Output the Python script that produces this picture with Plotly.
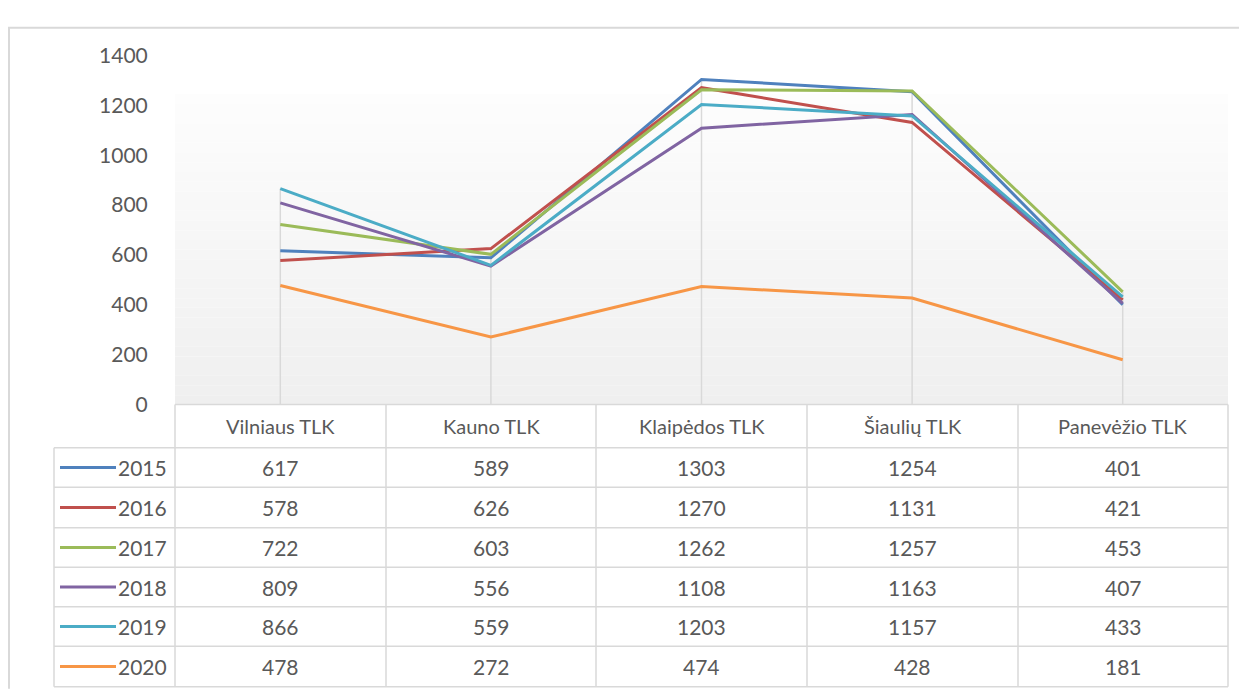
import plotly.graph_objects as go

categories = ["Vilniaus TLK", "Kauno TLK", "Klaipėdos TLK", "Šiaulių TLK", "Panevėžio TLK"]
years = ["2015", "2016", "2017", "2018", "2019", "2020"]
v2015 = [617, 589, 1303, 1254, 401]
v2016 = [578, 626, 1270, 1131, 421]
v2017 = [722, 603, 1262, 1257, 453]
v2018 = [809, 556, 1108, 1163, 407]
v2019 = [866, 559, 1203, 1157, 433]
v2020 = [478, 272, 474, 428, 181]
series = [v2015, v2016, v2017, v2018, v2019, v2020]
colors = ["#4F81BD", "#C0504D", "#9BBB59", "#8064A2", "#4BACC6", "#F79646"]
y_ticks = [0, 200, 400, 600, 800, 1000, 1200, 1400]

OFF = 8
W, H = 1231, 683
def X(px):
    return (px - OFF) / W
def Y(py):
    return 1 - (py - OFF) / H

TXT = "#595959"
GRID = "#d9d9d9"
FONT = "Lato"
FS = 21

fig = go.Figure()

# drop lines (from highest value to axis)
dx, dy = [], []
for i, c in enumerate(categories):
    top = max(s[i] for s in series)
    dx += [c, c, None]
    dy += [0, top, None]
fig.add_trace(go.Scatter(x=dx, y=dy, mode="lines", line=dict(color=GRID, width=1.5),
                         hoverinfo="skip", showlegend=False))

for yr, vals, col in zip(years, series, colors):
    fig.add_trace(go.Scatter(x=categories, y=vals, mode="lines", name=yr,
                             line=dict(color=col, width=3), showlegend=False))

shapes = []
# gradient background in plot area
g_top, g_bot = 83, 405.5
nb = 32
for k in range(nb):
    y0 = g_top + (g_bot - g_top) * k / nb
    y1 = g_top + (g_bot - g_top) * (k + 1) / nb
    t = (k + 0.5) / nb
    v = round(253 - (253 - 239) * t)
    shapes.append(dict(type="rect", xref="paper", yref="paper", x0=X(175), x1=X(1228),
                       y0=Y(y1), y1=Y(y0), fillcolor=f"rgb({v},{v},{v})",
                       line=dict(width=0), layer="below"))

# outer chart border
shapes.append(dict(type="line", xref="paper", yref="paper", x0=X(9), x1=X(9), y0=Y(14), y1=Y(700),
                   line=dict(color=GRID, width=2)))
shapes.append(dict(type="line", xref="paper", yref="paper", x0=X(8), x1=X(1247), y0=Y(14), y1=Y(14),
                   line=dict(color=GRID, width=2)))

# table geometry
col_edges = [175, 386, 596, 807, 1018, 1228]
leg_left = 54
row_edges = [405, 450, 491, 533, 574, 615, 656, 698]

def hline(x0, x1, y):
    shapes.append(dict(type="line", xref="paper", yref="paper", x0=X(x0), x1=X(x1), y0=Y(y), y1=Y(y),
                       line=dict(color=GRID, width=1.5)))
def vline(x, y0, y1):
    shapes.append(dict(type="line", xref="paper", yref="paper", x0=X(x), x1=X(x), y0=Y(y0), y1=Y(y1),
                       line=dict(color=GRID, width=1.5)))

hline(col_edges[0], col_edges[-1], row_edges[0])
for ry in row_edges[1:]:
    hline(leg_left, col_edges[-1], ry)
for cx in col_edges:
    vline(cx, row_edges[0], row_edges[-1])
vline(leg_left, row_edges[1], row_edges[-1])

annotations = []
# header
for j, c in enumerate(categories):
    annotations.append(dict(x=X((col_edges[j] + col_edges[j + 1]) / 2), y=Y((row_edges[0] + row_edges[1]) / 2),
                            xref="paper", yref="paper", text=c, showarrow=False,
                            font=dict(family=FONT, size=FS - 1, color=TXT), xanchor="center", yanchor="middle"))
# rows
for r, (yr, vals, col) in enumerate(zip(years, series, colors)):
    cy = (row_edges[r + 1] + row_edges[r + 2]) / 2
    shapes.append(dict(type="line", xref="paper", yref="paper", x0=X(60), x1=X(116), y0=Y(cy), y1=Y(cy),
                       line=dict(color=col, width=3)))
    annotations.append(dict(x=X(116), y=Y(cy), xref="paper", yref="paper", text=yr, showarrow=False,
                            font=dict(family=FONT, size=FS, color=TXT), xanchor="left", yanchor="middle"))
    for j, v in enumerate(vals):
        annotations.append(dict(x=X((col_edges[j] + col_edges[j + 1]) / 2), y=Y(cy), xref="paper", yref="paper",
                                text=str(v), showarrow=False,
                                font=dict(family=FONT, size=FS, color=TXT), xanchor="center", yanchor="middle"))

fig.update_layout(
    width=W, height=H,
    margin=dict(l=0, r=0, t=0, b=0),
    paper_bgcolor="white", plot_bgcolor="white",
    shapes=shapes, annotations=annotations,
    xaxis=dict(domain=[X(175), X(1228)], range=[-0.5, 4.5], showticklabels=False, showgrid=False,
               zeroline=False, showline=False, ticks=""),
    yaxis=dict(domain=[Y(405.5), Y(42.5)], range=[0, 1400], tickvals=y_ticks, showgrid=False,
               zeroline=False, showline=False, ticks="outside", ticklen=22, tickcolor="rgba(0,0,0,0)",
               tickfont=dict(family=FONT, size=FS, color=TXT)),
    hovermode=False,
)

fig.write_html("out.html")
